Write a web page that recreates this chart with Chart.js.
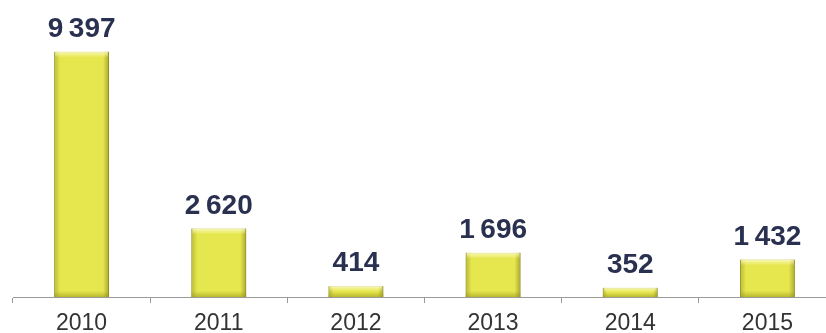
<!DOCTYPE html>
<html>
<head>
<meta charset="utf-8">
<script src="https://cdn.jsdelivr.net/npm/chart.js@4/dist/chart.umd.min.js"></script>
<style>
  html, body { margin: 0; padding: 0; background: #ffffff; overflow: hidden; }
  #wrap { position: absolute; left: 0; top: 0; width: 836px; height: 333px; }
</style>
</head>
<body>
<div id="wrap"><canvas id="c"></canvas></div>
<script>
const categories = ['2010', '2011', '2012', '2013', '2014', '2015'];
const values = [9397, 2620, 414, 1696, 352, 1432];

function fmt(v) {
  return String(v).replace(/\B(?=(\d{3})+(?!\d))/g, '\u2009');
}

const bevelPlugin = {
  id: 'bevel',
  afterDatasetsDraw(chart) {
    const ctx = chart.ctx;
    const meta = chart.getDatasetMeta(0);
    meta.data.forEach((bar) => {
      const w = bar.width;
      const x0 = bar.x - w / 2, x1 = bar.x + w / 2;
      const y0 = bar.y, y1 = bar.base;
      const h = y1 - y0;
      const b = Math.min(6, h / 2);
      ctx.save();
      let g = ctx.createLinearGradient(x0, 0, x0 + b, 0);
      g.addColorStop(0, 'rgba(150,150,30,0.55)');
      g.addColorStop(1, 'rgba(150,150,30,0)');
      ctx.fillStyle = g;
      ctx.fillRect(x0, y0, b, h);
      g = ctx.createLinearGradient(x1, 0, x1 - b, 0);
      g.addColorStop(0, 'rgba(130,130,20,0.6)');
      g.addColorStop(1, 'rgba(130,130,20,0)');
      ctx.fillStyle = g;
      ctx.fillRect(x1 - b, y0, b, h);
      g = ctx.createLinearGradient(0, y0, 0, y0 + b);
      g.addColorStop(0, 'rgba(255,255,200,0.8)');
      g.addColorStop(1, 'rgba(255,255,200,0)');
      ctx.fillStyle = g;
      ctx.fillRect(x0 + 1, y0, w - 2, b);
      g = ctx.createLinearGradient(0, y1, 0, y1 - b);
      g.addColorStop(0, 'rgba(140,140,20,0.5)');
      g.addColorStop(1, 'rgba(140,140,20,0)');
      ctx.fillStyle = g;
      ctx.fillRect(x0, y1 - b, w, b);
      ctx.restore();
    });
  }
};

const labelPlugin = {
  id: 'valueLabels',
  afterDatasetsDraw(chart) {
    const ctx = chart.ctx;
    const meta = chart.getDatasetMeta(0);
    ctx.save();
    ctx.font = 'bold 28px "Liberation Sans", Arial, sans-serif';
    ctx.fillStyle = '#2a3150';
    ctx.textAlign = 'center';
    ctx.textBaseline = 'alphabetic';
    meta.data.forEach((bar, i) => {
      ctx.fillText(fmt(chart.data.datasets[0].data[i]), bar.x, bar.y - 15);
    });
    ctx.restore();
  }
};

new Chart(document.getElementById('c'), {
  type: 'bar',
  data: {
    labels: categories,
    datasets: [{
      data: values,
      backgroundColor: '#e6e64e',
      borderColor: '#a9a934',
      borderWidth: 1,
      categoryPercentage: 1.0,
      barPercentage: 0.4
    }]
  },
  options: {
    responsive: true,
    maintainAspectRatio: false,
    animation: false,
    layout: { padding: { left: 13, right: 0, top: 36, bottom: 0 } },
    plugins: { legend: { display: false }, tooltip: { enabled: false } },
    scales: {
      x: {
        afterFit: (s) => { s.height = 36; },
        border: { display: true, color: '#9a9a9a', width: 1 },
        grid: { offset: true, drawOnChartArea: false, drawTicks: true, tickLength: 6, color: '#9a9a9a' },
        ticks: {
          color: '#333333',
          padding: 7,
          font: { family: '"Liberation Sans", Arial, sans-serif', size: 23 },
          maxRotation: 0
        }
      },
      y: {
        display: false,
        min: 0,
        max: 10000
      }
    }
  },
  plugins: [bevelPlugin, labelPlugin]
});
</script>
</body>
</html>
